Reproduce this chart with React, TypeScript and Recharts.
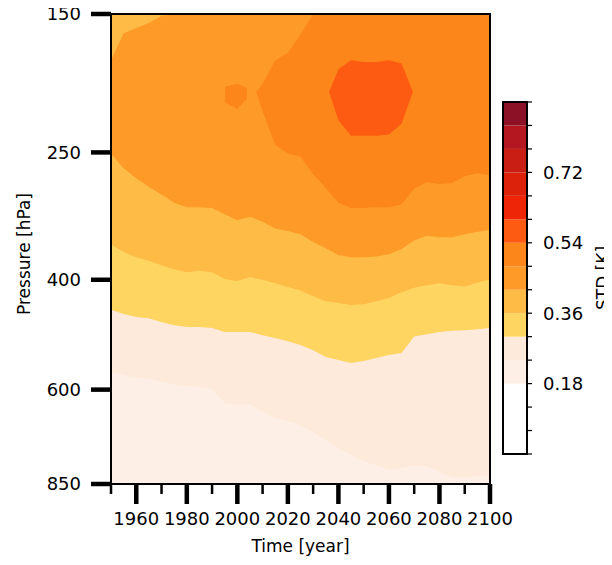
import { ComposedChart, Area, XAxis, YAxis, CartesianGrid, BarChart, Bar, ReferenceArea } from "recharts";

// years on the common 5-year grid
const years = [
  1950, 1955, 1960, 1965, 1970, 1975, 1980, 1985, 1990, 1995, 2000, 2005, 2010, 2015, 2020, 2025,
  2030, 2035, 2040, 2045, 2050, 2055, 2060, 2065, 2070, 2075, 2080, 2085, 2090, 2095, 2100,
];

// pressure (hPa) of each contour edge
const l4Bottom = [562, 569, 573, 577, 583, 588, 592, 594, 599, 630, 635, 633, 652, 666, 674, 684, 702, 723, 744, 764, 781, 793, 807, 801, 793, 796, 813, 829, 829, 826, 823];
const l5Bottom = [447, 454, 459, 461, 468, 473, 476, 476, 478, 485, 485, 485, 491, 496, 502, 509, 519, 532, 538, 544, 540, 534, 528, 524, 493, 489, 485, 483, 482, 480, 478];
const l6Bottom = [351, 361, 368, 373, 379, 385, 389, 387, 389, 399, 402, 396, 400, 405, 411, 416, 425, 433, 436, 439, 438, 433, 428, 419, 412, 408, 405, 408, 410, 404, 400];
const l7Top = [178, 161, 158, 155, 151, 150, 150, 150, 150, 150, 150, 150, 150, 150, 150, 150, 150, 150, 150, 150, 150, 150, 150, 150, 150, 150, 150, 150, 150, 150, 150];
const l7Bottom = [251, 265, 275, 284, 292, 301, 306, 306, 307, 314, 321, 317, 323, 331, 334, 338, 348, 356, 365, 368, 368, 367, 364, 357, 346, 340, 342, 342, 338, 335, 333];

// 0.48-0.54 K region (upper right) and its small patch near 2000
const l8Years = [2007.5, 2010, 2015, 2020, 2025, 2030, 2035, 2040, 2045, 2050, 2055, 2060, 2065, 2070, 2075, 2080, 2085, 2090, 2095, 2100];
const l8Top = [200, 194, 178, 173, 162, 150, 150, 150, 150, 150, 150, 150, 150, 150, 150, 150, 150, 150, 150, 150];
const l8Bottom = [200, 215, 243, 251, 254, 271, 285, 301, 307, 307, 306, 306, 303, 286, 279, 281, 280, 273, 270, 272];
const l8bYears = [1995.2, 2000, 2003.8];
const l8bTop = [196, 194, 197];
const l8bBottom = [208, 213, 205];

// 0.54-0.60 K core
const l9Years = [2036.3, 2040, 2045, 2050, 2055, 2060, 2065, 2069.5];
const l9Top = [200, 184, 178, 179, 179, 178, 180, 200];
const l9Bottom = [200, 222, 235, 235, 235, 234, 225, 200];

const xTickValues = [1950, 1960, 1970, 1980, 1990, 2000, 2010, 2020, 2030, 2040, 2050, 2060, 2070, 2080, 2090, 2100];
const xTickLabels = [1960, 1980, 2000, 2020, 2040, 2060, 2080, 2100];
const yTickLabels = [150, 250, 400, 600, 850];

const levels = [0, 0.06, 0.12, 0.18, 0.24, 0.3, 0.36, 0.42, 0.48, 0.54, 0.6, 0.66, 0.72, 0.78, 0.84, 0.9];
const cbLabels = [0.18, 0.36, 0.54, 0.72];
const cbColors = [
  "#ffffff", "#ffffff", "#ffffff", "#fdefe5", "#feeadb", "#fed561", "#febb45", "#fe9a27",
  "#fd861a", "#fd5b12", "#ee2507", "#dc220b", "#c81e14", "#b4171f", "#8c1026",
];

const pick = (ys: number[], top: number[], bottom: number[], yr: number) => {
  const i = ys.indexOf(yr);
  return i < 0 ? null : [top[i], bottom[i]];
};

const allYears = Array.from(new Set([...years, ...l8Years, ...l8bYears, ...l9Years])).sort((a, b) => a - b);
const rows = allYears.map((yr) => ({
  year: yr,
  l4: pick(years, years.map(() => 150), l4Bottom, yr),
  l5: pick(years, years.map(() => 150), l5Bottom, yr),
  l6: pick(years, years.map(() => 150), l6Bottom, yr),
  l7: pick(years, l7Top, l7Bottom, yr),
  l8: pick(l8Years, l8Top, l8Bottom, yr),
  l8b: pick(l8bYears, l8bTop, l8bBottom, yr),
  l9: pick(l9Years, l9Top, l9Bottom, yr),
}));

const cbRow = levels.slice(0, -1).reduce((acc: any, lv, i) => {
  acc[`c${i}`] = levels[i + 1] - lv;
  return acc;
}, { name: "STD" });

const bands = [
  { key: "l4", color: cbColors[4] },
  { key: "l5", color: cbColors[5] },
  { key: "l6", color: cbColors[6] },
  { key: "l7", color: cbColors[7] },
  { key: "l8", color: cbColors[8] },
  { key: "l8b", color: cbColors[8] },
  { key: "l9", color: cbColors[9] },
];

const XTick = ({ x, y, payload }: any) => {
  const major = xTickLabels.includes(payload.value);
  return (
    <g>
      <line x1={x} x2={x} y1={y} y2={y + (major ? 20 : 10)} stroke="#000" strokeWidth={major ? 4.5 : 2.5} />
      {major && (
        <text x={x} y={y + 41} textAnchor="middle" fontSize={18} fill="#000">
          {payload.value}
        </text>
      )}
    </g>
  );
};

const YTick = ({ x, y, payload }: any) => (
  <g>
    <line x1={x} x2={x - 20} y1={y} y2={y} stroke="#000" strokeWidth={4.5} />
    <text x={x - 30} y={y} dy="0.35em" textAnchor="end" fontSize={18} fill="#000">
      {payload.value}
    </text>
  </g>
);

const CbTick = ({ x, y, payload }: any) => (
  <g>
    <line x1={x} x2={x + 5} y1={y} y2={y} stroke="#000" strokeWidth={1.2} />
    {cbLabels.includes(payload.value) && (
      <text x={x + 16} y={y} dy="0.35em" textAnchor="start" fontSize={18} fill="#000">
        {payload.value.toFixed(2)}
      </text>
    )}
  </g>
);

const frame = { stroke: "#000", strokeWidth: 2 };

export default function App() {
  return (
    <div style={{ position: "relative", width: 596, height: 549, fontFamily: "DejaVu Sans" }}>
      <style>{"html { overflow: hidden; }"}</style>
      <div style={{ position: "absolute", left: 0, top: -8 }}>
        <ComposedChart width={520} height={557} data={rows} margin={{ top: 14, right: 38, bottom: 0, left: 0 }}>
          <CartesianGrid fill={cbColors[3]} horizontal={false} vertical={false} />
          {bands.map((b) => (
            <Area
              key={b.key}
              type="linear"
              dataKey={b.key}
              stroke="none"
              fill={b.color}
              fillOpacity={1}
              connectNulls
              dot={false}
              activeDot={false}
              isAnimationActive={false}
            />
          ))}
          <XAxis
            dataKey="year"
            type="number"
            domain={[1950, 2100]}
            ticks={xTickValues}
            interval={0}
            allowDataOverflow
            height={73}
            tickSize={0}
            tickMargin={0}
            tick={<XTick />}
            axisLine={frame}
            label={{ value: "Time [year]", position: "insideBottom", offset: 5, fill: "#000", fontSize: 17 }}
          />
          <YAxis
            type="number"
            scale="log"
            domain={[150, 850]}
            reversed
            allowDataOverflow
            ticks={yTickLabels}
            interval={0}
            width={103}
            tickSize={0}
            tickMargin={0}
            tick={<YTick />}
            axisLine={frame}
            label={{ value: "Pressure [hPa]", angle: -90, position: "center", dx: -36, dy: 5, fill: "#000", fontSize: 17 }}
          />
          <ReferenceArea
            x1={1950}
            x2={2100}
            y1={150}
            y2={850}
            fill="none"
            stroke="#000"
            strokeWidth={2}
            fillOpacity={0}
            ifOverflow="visible"
            zIndex={1000}
          />
        </ComposedChart>
      </div>
      <div style={{ position: "absolute", left: 490, top: -8 }}>
        <BarChart width={114} height={557} data={[cbRow]} margin={{ top: 102, right: 0, bottom: 103, left: 5 }} barCategoryGap={0} barGap={0}>
          {levels.slice(0, -1).map((lv, i) => (
            <Bar key={lv} dataKey={`c${i}`} stackId="cb" fill={cbColors[i]} isAnimationActive={false} />
          ))}
          <XAxis dataKey="name" type="category" hide />
          <YAxis
            orientation="right"
            type="number"
            domain={[0, 0.9]}
            ticks={levels}
            interval={0}
            allowDataOverflow
            width={85}
            tickSize={0}
            tickMargin={0}
            tick={<CbTick />}
            axisLine={false}
            label={{ value: "STD [K]", angle: -90, position: "center", dx: 33, fill: "#000", fontSize: 17 }}
          />
          <ReferenceArea y1={0} y2={0.9} fill="none" fillOpacity={0} stroke="#000" strokeWidth={2} ifOverflow="visible" zIndex={1000} />
        </BarChart>
      </div>
    </div>
  );
}
